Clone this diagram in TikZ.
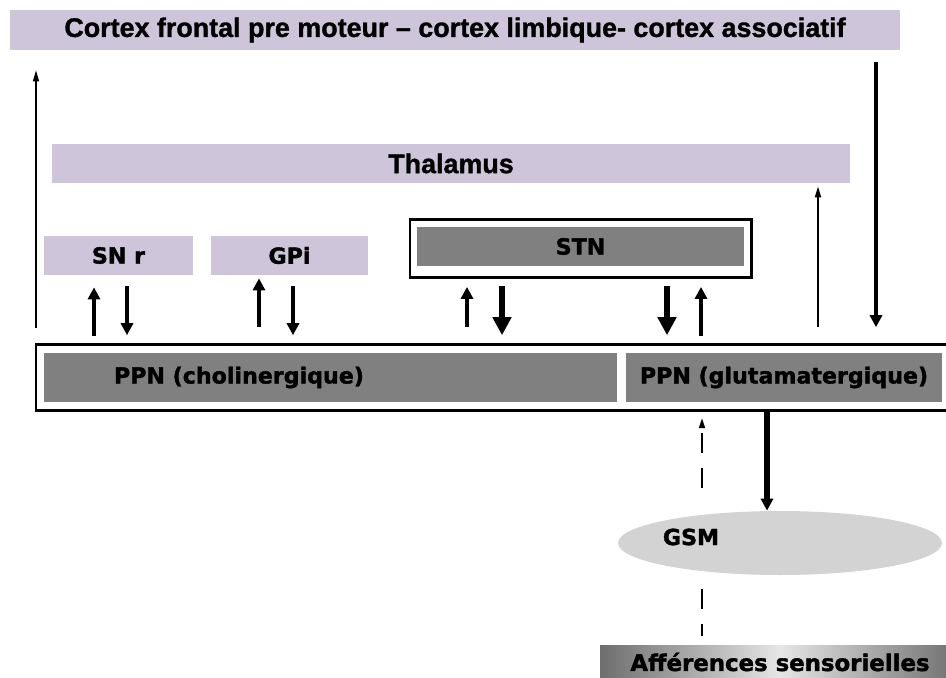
\documentclass[tikz,border=0pt]{standalone}
\usepackage{fontspec}
\setmainfont{Liberation Sans}[BoldFeatures={FakeBold=1.2}]
\newfontfamily\heavyfont{DejaVu Sans}[BoldFeatures={FakeBold=1.6}]
\usetikzlibrary{arrows.meta,shapes.geometric}
\definecolor{lila}{HTML}{CEC5DA}
\definecolor{grisfonce}{HTML}{808080}
\definecolor{grisclair}{HTML}{D3D3D3}
\definecolor{grisbord}{HTML}{6E6E6E}
\tikzstyle{Band}=[rectangle, fill=lila, inner sep=0, font=\bfseries\fontsize{15.3}{18}\selectfont]
\tikzstyle{Nucleus}=[rectangle, fill=lila, inner sep=0, font=\heavyfont\bfseries\fontsize{12.6}{15}\selectfont]
\tikzstyle{Dark}=[rectangle, fill=grisfonce, inner sep=0, font=\heavyfont\bfseries\fontsize{12.6}{15}\selectfont]
\tikzstyle{Frame}=[rectangle, draw=black, line width=1.7pt, inner sep=0]
\tikzstyle{Tag}=[inner sep=0, font=\heavyfont\bfseries\fontsize{12.6}{15}\selectfont]
\tikzstyle{arrowthin}=[line width=0.7pt, -{Triangle[length=0.22cm, width=0.12cm]}]
\tikzstyle{arrowmid}=[line width=2.4pt, -{Triangle[length=0.24cm, width=0.24cm]}]
\tikzstyle{arrowthick}=[line width=3.2pt, -{Triangle[length=0.36cm, width=0.36cm]}]
\tikzstyle{dashline}=[line width=1pt, dash pattern=on 0.4cm off 0.3cm]

\begin{document}
\begin{tikzpicture}[x=0.02cm, y=0.02cm]
    \useasboundingbox (0,0) rectangle (946,677);
    \path
    (455,647) node[Band, minimum width=890*0.02cm, minimum height=40*0.02cm] (cortex) {Cortex frontal pre moteur -- cortex limbique- cortex associatif}
    (451,513.5) node[Band, minimum width=798*0.02cm, minimum height=39*0.02cm] (thal) {Thalamus}
    (118.5,421.5) node[Nucleus, minimum width=149*0.02cm, minimum height=39*0.02cm] (snr) {SN r}
    (289.5,421.5) node[Nucleus, minimum width=157*0.02cm, minimum height=39*0.02cm] (gpi) {GPi};

    \path
    (580.5,428.6) node[Frame, minimum width=341*0.02cm, minimum height=58*0.02cm] (stnframe) {}
    (580.5,430.5) node[Dark, minimum width=327*0.02cm, minimum height=39*0.02cm] (stn) {STN}
    (498,299.3) node[Frame, minimum width=924*0.02cm, minimum height=66*0.02cm] (ppn) {}
    (330.5,299.5) node[Dark, minimum width=573*0.02cm, minimum height=49*0.02cm] (ppnC) {}
    (784,299.5) node[Dark, minimum width=316*0.02cm, minimum height=49*0.02cm] (ppnG) {PPN (glutamatergique)}
    (780,134) node[ellipse, fill=grisclair, minimum width=324*0.02cm, minimum height=64*0.02cm] (gsm) {}
    (780,15) node[Tag, left color=grisbord, right color=grisbord, middle color=white!90!black,
        minimum width=360*0.02cm, minimum height=34*0.02cm, font=\heavyfont\bfseries\fontsize{13}{15}\selectfont] (aff) {Afférences sensorielles};

    \path (ppnC.west) ++(70,0) node[Tag, anchor=west] (ppnCtxt) {PPN (cholinergique)};
    \path (gsm.center) ++(-89,6) node[Tag] (gsmtxt) {GSM};

    \draw[arrowmid, shorten <=0.14cm, shorten >=0.24cm] (ppn.north -| 94,0) -- (snr.south -| 94,0);
    \draw[arrowmid, shorten <=0.22cm, shorten >=0.16cm] (snr.south -| 127,0) -- (ppn.north -| 127,0);
    \draw[arrowmid, shorten <=0.32cm, shorten >=0.06cm] (ppn.north -| 259,0) -- (gpi.south -| 259,0);
    \draw[arrowmid, shorten <=0.22cm, shorten >=0.16cm] (gpi.south -| 293,0) -- (ppn.north -| 293,0);
    \draw[arrowmid, shorten <=0.32cm, shorten >=0.16cm] (ppn.north -| 467,0) -- (stnframe.south -| 467,0);
    \draw[arrowthick, shorten <=0.14cm, shorten >=0.16cm] (stnframe.south -| 502,0) -- (ppn.north -| 502,0);
    \draw[arrowthick, shorten <=0.14cm, shorten >=0.16cm] (stnframe.south -| 667,0) -- (ppn.north -| 667,0);
    \draw[arrowmid, shorten <=0.14cm, shorten >=0.16cm] (ppn.north -| 701,0) -- (stnframe.south -| 701,0);

    \draw[arrowthin, shorten <=0.30cm, shorten >=0.40cm] (ppn.north -| 36,0) -- (cortex.south -| 36,0);
    \draw[arrowthin, line width=1pt, shorten <=0.32cm, shorten >=0.06cm] (ppn.north -| 818,0) -- (thal.south -| 818,0);
    \draw[arrowmid, line width=2pt, shorten <=0.24cm, shorten >=0.32cm] (cortex.south -| 876,0) -- (ppn.north -| 876,0);
    \draw[arrowmid, line width=3pt] (ppn.south -| 767,0) -- (gsm.north -| 767,0);
    \draw[dashline, -{Triangle[length=0.2cm, width=0.12cm]}, shorten <=0.46cm, shorten >=0.12cm] (gsm.north -| 702,0) -- (ppn.south -| 702,0);
    \draw[dashline, shorten <=0.28cm, shorten >=0.18cm] (gsm.south -| 702,0) -- (aff.north -| 702,0);
\end{tikzpicture}
\end{document}
